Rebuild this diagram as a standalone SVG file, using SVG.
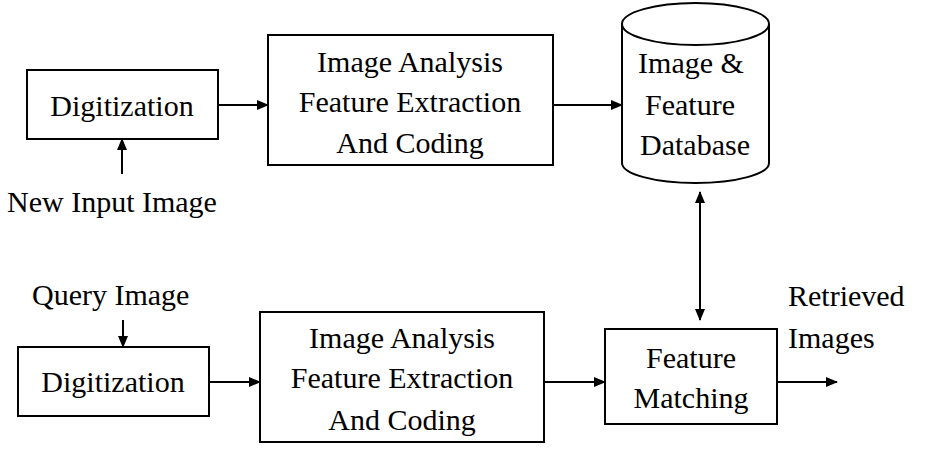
<svg xmlns="http://www.w3.org/2000/svg" width="935" height="450" viewBox="0 0 935 450">
<defs>
<marker id="arr" markerWidth="12" markerHeight="10" refX="11" refY="5" orient="auto-start-reverse" markerUnits="userSpaceOnUse">
<path d="M0,0 L12,5 L0,10 Z" fill="#000"/>
</marker>
<style>
.box{fill:#fff;stroke:#000;stroke-width:2}
.c{stroke:#000;stroke-width:2;fill:none;marker-end:url(#arr)}
</style>
</defs>
<rect width="935" height="450" fill="#fff"/>
<g id="digitization-top">
<rect class="box" x="27" y="70" width="191" height="69"/>
<text x="122" y="116" text-anchor="middle" font-family="Liberation Serif" font-size="30">Digitization</text>
</g>
<g id="analysis-top">
<rect class="box" x="268" y="35" width="285" height="130"/>
<text x="410" y="72" text-anchor="middle" font-family="Liberation Serif" font-size="30">Image Analysis</text>
<text x="410" y="112" text-anchor="middle" font-family="Liberation Serif" font-size="30">Feature Extraction</text>
<text x="410" y="153" text-anchor="middle" font-family="Liberation Serif" font-size="30">And Coding</text>
</g>
<g id="database">
<path class="box" d="M622,24 L622,163 A73.5,20 0 0 0 769,163 L769,24"/>
<ellipse class="box" cx="695.5" cy="24" rx="73.5" ry="21"/>
<text x="691" y="73" text-anchor="middle" font-family="Liberation Serif" font-size="30">Image &amp;</text>
<text x="690" y="115" text-anchor="middle" font-family="Liberation Serif" font-size="30">Feature</text>
<text x="695" y="155" text-anchor="middle" font-family="Liberation Serif" font-size="30">Database</text>
</g>
<g id="new-input-label">
<text x="7" y="212" font-family="Liberation Serif" font-size="30">New Input Image</text>
</g>
<g id="query-label">
<text x="32" y="305" font-family="Liberation Serif" font-size="30">Query Image</text>
</g>
<g id="digitization-bottom">
<rect class="box" x="18" y="347" width="191" height="69"/>
<text x="113" y="392" text-anchor="middle" font-family="Liberation Serif" font-size="30">Digitization</text>
</g>
<g id="analysis-bottom">
<rect class="box" x="260" y="312" width="284" height="130"/>
<text x="402" y="348" text-anchor="middle" font-family="Liberation Serif" font-size="30">Image Analysis</text>
<text x="402" y="388" text-anchor="middle" font-family="Liberation Serif" font-size="30">Feature Extraction</text>
<text x="402" y="430" text-anchor="middle" font-family="Liberation Serif" font-size="30">And Coding</text>
</g>
<g id="matching">
<rect class="box" x="605" y="329" width="172" height="95"/>
<text x="691" y="368" text-anchor="middle" font-family="Liberation Serif" font-size="30">Feature</text>
<text x="691" y="408" text-anchor="middle" font-family="Liberation Serif" font-size="30">Matching</text>
</g>
<g id="retrieved-label">
<text x="788" y="306" font-family="Liberation Serif" font-size="30">Retrieved</text>
<text x="788" y="348" font-family="Liberation Serif" font-size="30">Images</text>
</g>
<g id="connectors">
<line class="c" x1="218" y1="105" x2="268" y2="105"/>
<line class="c" x1="122" y1="174" x2="122" y2="139"/>
<line class="c" x1="553" y1="105" x2="622" y2="105"/>
<line class="c" x1="700" y1="320" x2="700" y2="192" style="marker-start:url(#arr)"/>
<line class="c" x1="123" y1="320" x2="123" y2="347"/>
<line class="c" x1="209" y1="382" x2="260" y2="382"/>
<line class="c" x1="544" y1="382" x2="605" y2="382"/>
<line class="c" x1="777" y1="382" x2="837" y2="382"/>
</g>
</svg>
